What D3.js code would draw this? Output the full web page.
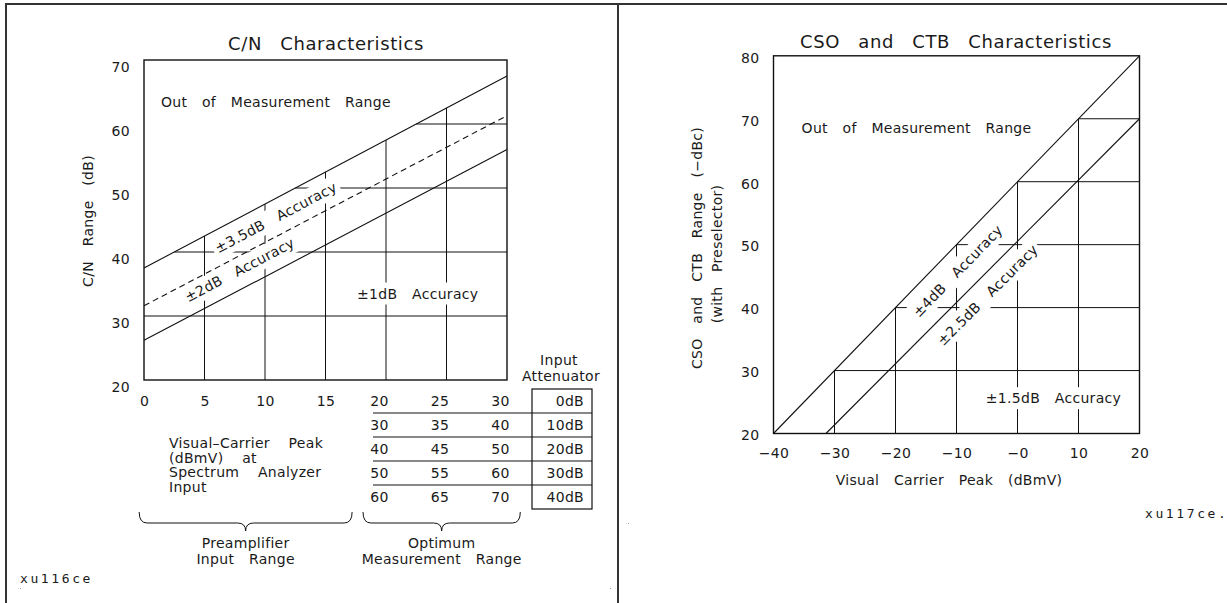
<!DOCTYPE html>
<html><head><meta charset="utf-8">
<script src="https://cdn.jsdelivr.net/npm/d3@7"></script>
<style>
body{margin:0;background:#fff}
svg{display:block}
text{font-family:"DejaVu Sans",sans-serif;fill:#1a1a1a;font-size:14px;letter-spacing:0.3px;word-spacing:10px}
.title{font-size:18px;letter-spacing:0.6px;word-spacing:12px}
.mono{font-family:"DejaVu Sans Mono",monospace;font-size:13px;letter-spacing:2.6px}
</style></head><body>
<svg id="c" width="1227" height="603"></svg>
<script>
// ---------------- C/N chart data ----------------
const cnXTicks = [0, 5, 10, 15];
const cnYTicks = [20, 30, 40, 50, 60, 70];
const cnUpper = [[0, 37.5], [30, 67.5]];          // ±3.5 dB boundary
const cnNominal = [[0, 31.6], [30, 61.3]];        // dashed
const cnLower = [[0, 26.2], [30, 56.0]];          // ±1 dB boundary
const cnHGrid = [[30, 0], [40, 2.5], [50, 12.5], [60, 22.5]];          // [level, start x]
const cnVGrid = [[5, 42.5], [10, 47.5], [15, 52.5], [20, 57.5], [25, 62.5]]; // [x, top]
const cnTableRows = [[20, 25, 30], [30, 35, 40], [40, 45, 50], [50, 55, 60], [60, 65, 70]];
const attenuator = ["0dB", "10dB", "20dB", "30dB", "40dB"];
const cnBraces = [
  {from: -0.4, to: 17.2, label: ["Preamplifier", "Input Range"]},
  {from: 18.1, to: 31.1, label: ["Optimum", "Measurement Range"]}
];
const cnXLabelLines = ["Visual–Carrier Peak", "(dBmV) at", "Spectrum Analyzer", "Input"];

// ---------------- CSO/CTB chart data ----------------
const csXTicks = [-40, -30, -20, -10, 0, 10, 20];
const csXTickLabels = ["−40", "−30", "−20", "−10", "−0", "10", "20"];
const csYTicks = [20, 30, 40, 50, 60, 70, 80];
const csUpper = [[-40, 20], [20, 80]];            // ±4 dB boundary
const csLower = [[-31.4, 20], [20, 70]];          // ±2.5 dB boundary
const csHGrid = [[30, -30], [40, -20], [50, -10], [60, 0], [70, 10]];   // [level, start x]
const csVGrid = [[-30, 30], [-20, 40], [-10, 50], [0, 60], [10, 70]];   // [x, top]

const svg = d3.select("#c");

// page frame
const frame = svg.append("g").attr("stroke", "#333").attr("stroke-width", 2);
frame.append("line").attr("x1", 5).attr("x2", 1227).attr("y1", 4).attr("y2", 4);
frame.append("line").attr("x1", 6).attr("x2", 6).attr("y1", 3).attr("y2", 603);
frame.append("line").attr("x1", 618).attr("x2", 618).attr("y1", 3).attr("y2", 603);
[[20, 588], [610, 588], [628, 523]].forEach(([x, y]) =>
  svg.append("rect").attr("x", x).attr("y", y).attr("width", 1).attr("height", 1).attr("fill", "#999"));

function makeChart(o) {
  const g = svg.append("g");
  const gGrid = g.append("g").attr("stroke", "#111").attr("stroke-width", 1);
  const gKnock = g.append("g").attr("fill", "#fff");
  const gLines = g.append("g").attr("fill", "none").attr("stroke", "#111").attr("stroke-width", 1.1);
  const gText = g.append("g");
  const {x, y} = o;
  const [x0, x1] = x.domain(), [y0, y1] = y.domain();

  gGrid.selectAll(".h").data(o.hGrid).join("line")
    .attr("x1", d => x(d[1])).attr("x2", x(x1)).attr("y1", d => y(d[0])).attr("y2", d => y(d[0]));
  gGrid.selectAll(".v").data(o.vGrid).join("line")
    .attr("x1", d => x(d[0])).attr("x2", d => x(d[0])).attr("y1", y(y0)).attr("y2", d => y(d[1]));

  const line = d3.line().x(d => x(d[0])).y(d => y(d[1]));
  o.diag.forEach(dd => gLines.append("path").attr("d", line(dd.pts)).attr("stroke-dasharray", dd.dash || null));
  gLines.append("rect").attr("x", x(x0)).attr("y", y(y1)).attr("width", x(x1) - x(x0))
    .attr("height", y(y0) - y(y1)).attr("stroke-width", 1.4);

  o.notes.forEach(n => {
    let ang = 0;
    if (n.along) {
      const p = n.along;
      ang = Math.atan2(y(p[1][1]) - y(p[0][1]), x(p[1][0]) - x(p[0][0])) * 180 / Math.PI;
    }
    const tr = `translate(${x(n.x)},${y(n.y)}) rotate(${ang})`;
    const t = gText.append("text").attr("transform", tr).attr("dy", "0.35em")
      .attr("text-anchor", n.anchor || "middle").text(n.text);
    if (n.knock) {
      const b = t.node().getBBox();
      gKnock.append("rect").attr("transform", tr)
        .attr("x", b.x - 3).attr("y", b.y - 3).attr("width", b.width + 6).attr("height", b.height + 6);
    }
  });
  return g;
}

// ---------------- C/N chart ----------------
const xCN = d3.scaleLinear([0, 30], [144, 507]);
const yCN = d3.scaleLinear([20, 70], [380, 60]);
const cn = makeChart({
  x: xCN, y: yCN, hGrid: cnHGrid, vGrid: cnVGrid,
  diag: [{pts: cnUpper}, {pts: cnNominal, dash: "6,4"}, {pts: cnLower}],
  notes: [
    {x: 1.4, y: 63.4, text: "Out of Measurement Range", anchor: "start"},
    {x: 17.6, y: 33.5, text: "±1dB Accuracy", anchor: "start", knock: true},
    {x: 10.9, y: 45.4, text: "±3.5dB Accuracy", along: cnUpper, knock: true},
    {x: 7.9, y: 37.2, text: "±2dB Accuracy", along: cnLower, knock: true}
  ]
});
cn.append("text").attr("class", "title").attr("x", 326).attr("y", 50).attr("text-anchor", "middle").text("C/N Characteristics");
cn.append("text").attr("transform", "translate(88,221) rotate(-90)").attr("dy", "0.35em")
  .attr("text-anchor", "middle").text("C/N Range (dB)");

cn.append("g").attr("transform", `translate(${xCN(0)},0)`)
  .call(d3.axisLeft(yCN).tickValues(cnYTicks).tickSize(0).tickPadding(14))
  .call(g => { g.select(".domain").remove(); g.attr("font-size", null).attr("font-family", null); })
  .selectAll("text").attr("dy", "0.82em");
cn.append("g").attr("transform", `translate(0,${yCN(20)})`)
  .call(d3.axisBottom(xCN).tickValues(cnXTicks).tickSize(0).tickPadding(16))
  .call(g => { g.select(".domain").remove(); g.attr("font-size", null).attr("font-family", null); });

// table of extended input levels
const rowY = d3.scaleBand().domain(d3.range(cnTableRows.length)).range([389, 509]);
const tbl = cn.append("g");
cnTableRows.forEach((r, i) => {
  r.forEach((v, j) => tbl.append("text").attr("x", xCN(cnTableRows[0][j]) - 6.5)
    .attr("y", rowY(i) + rowY.bandwidth() / 2).attr("dy", "0.35em").attr("text-anchor", "middle").text(v));
  tbl.append("text").attr("x", 584).attr("y", rowY(i) + rowY.bandwidth() / 2).attr("dy", "0.35em")
    .attr("text-anchor", "end").text(attenuator[i]);
  if (i > 0) tbl.append("line").attr("x1", 373).attr("x2", 592).attr("y1", rowY(i)).attr("y2", rowY(i))
    .attr("stroke", "#111").attr("stroke-width", 1);
});
tbl.append("rect").attr("x", 532).attr("y", 389).attr("width", 60).attr("height", 120)
  .attr("fill", "none").attr("stroke", "#111").attr("stroke-width", 1.2);
tbl.append("text").attr("x", 559).attr("y", 365).attr("text-anchor", "middle").text("Input");
tbl.append("text").attr("x", 561).attr("y", 381).attr("text-anchor", "middle").text("Attenuator");

cnXLabelLines.forEach((s, i) => cn.append("text").attr("x", 169).attr("y", 448 + i * 14.7)
  .style("word-spacing", "14px").text(s));

cnBraces.forEach(b => {
  const a = xCN(b.from), c = xCN(b.to), m = (a + c) / 2, top = 512, flat = 523, tip = 531, r = 8;
  cn.append("path").attr("fill", "none").attr("stroke", "#111").attr("stroke-width", 1)
    .attr("d", `M${a},${top} Q${a},${flat} ${a + r},${flat} L${m - r},${flat} Q${m},${flat} ${m},${tip} Q${m},${flat} ${m + r},${flat} L${c - r},${flat} Q${c},${flat} ${c},${top}`);
  b.label.forEach((s, i) => cn.append("text").attr("x", m).attr("y", 548 + i * 16).attr("text-anchor", "middle").text(s));
});
cn.append("text").attr("class", "mono").attr("x", 20).attr("y", 583).text("xu116ce");

// ---------------- CSO / CTB chart ----------------
const xCS = d3.scaleLinear([-40, 20], [773.5, 1139.5]);
const yCS = d3.scaleLinear([20, 80], [433.5, 55.8]);
const cs = makeChart({
  x: xCS, y: yCS, hGrid: csHGrid, vGrid: csVGrid,
  diag: [{pts: csUpper}, {pts: csLower}],
  notes: [
    {x: -35.4, y: 68.5, text: "Out of Measurement Range", anchor: "start"},
    {x: -5.2, y: 25.6, text: "±1.5dB Accuracy", anchor: "start", knock: true},
    {x: -9.8, y: 45.8, text: "±4dB Accuracy", along: csUpper, knock: true},
    {x: -4.9, y: 42.0, text: "±2.5dB Accuracy", along: csLower, knock: true}
  ]
});
cs.append("text").attr("class", "title").attr("x", 956).attr("y", 48).attr("text-anchor", "middle").text("CSO and CTB Characteristics");
cs.append("text").attr("transform", "translate(697,248) rotate(-90)").attr("dy", "0.35em")
  .attr("text-anchor", "middle").text("CSO and CTB Range (−dBc)");
cs.append("text").attr("transform", "translate(717,254) rotate(-90)").attr("dy", "0.35em")
  .attr("text-anchor", "middle").text("(with Preselector)");
cs.append("g").attr("transform", `translate(${xCS(-40)},0)`)
  .call(d3.axisLeft(yCS).tickValues(csYTicks).tickSize(0).tickPadding(14))
  .call(g => { g.select(".domain").remove(); g.attr("font-size", null).attr("font-family", null); })
  .selectAll("text").attr("dy", "0.45em");
cs.append("g").attr("transform", `translate(0,${yCS(20)})`)
  .call(d3.axisBottom(xCS).tickValues(csXTicks).tickFormat((d, i) => csXTickLabels[i]).tickSize(0).tickPadding(15))
  .call(g => { g.select(".domain").remove(); g.attr("font-size", null).attr("font-family", null); });
cs.append("text").attr("x", 949).attr("y", 485).attr("text-anchor", "middle").text("Visual Carrier Peak (dBmV)");
cs.append("text").attr("class", "mono").attr("x", 1145).attr("y", 518).text("xu117ce.");
</script>
</body></html>
